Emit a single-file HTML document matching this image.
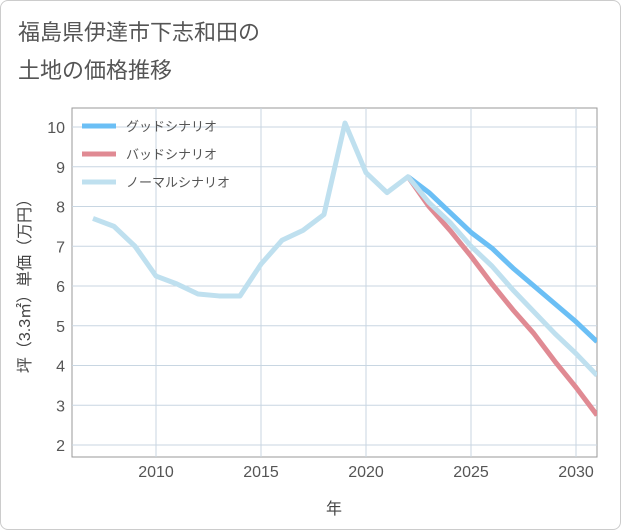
<!DOCTYPE html>
<html><head><meta charset="utf-8"><style>
body{margin:0;background:#fff;font-family:"Liberation Sans","Noto Sans CJK JP",sans-serif;}
#wrap{position:relative;width:619px;height:528px;border:1px solid #ccc;border-radius:8px;overflow:hidden;background:#fff}
</style></head><body>
<div id="wrap">
<svg id="chart" width="621" height="530" style="position:absolute;left:-1px;top:-1px">
<text x="18" y="40" font-size="22" fill="#555">福島県伊達市下志和田の</text>
<text x="18" y="78" font-size="22" fill="#555">土地の価格推移</text>
<g id="grid"></g><g id="series"></g><g id="axes"></g>
<text x="334" y="514" font-size="16" fill="#444" text-anchor="middle">年</text>
<text transform="translate(30,282) rotate(-90)" font-size="16" fill="#444" text-anchor="middle">坪（3.3㎡）単価（万円）</text>
<g id="legend"></g>
</svg>
</div>
<script>
const normalYears=[2007,2008,2009,2010,2011,2012,2013,2014,2015,2016,2017,2018,2019,2020,2021,2022,2023,2024,2025,2026,2027,2028,2029,2030,2031];
const normalValues=[7.7,7.5,7.0,6.25,6.05,5.8,5.75,5.75,6.55,7.15,7.4,7.8,10.1,8.85,8.35,8.75,8.1,7.6,7.0,6.5,5.9,5.35,4.8,4.3,3.75];
const forecastYears=[2022,2023,2024,2025,2026,2027,2028,2029,2030,2031];
const goodValues=[8.75,8.35,7.85,7.35,6.95,6.45,6.0,5.55,5.1,4.6];
const badValues=[8.75,8.0,7.4,6.75,6.05,5.4,4.8,4.1,3.45,2.75];
const xTicks=[2010,2015,2020,2025,2030];
const yTicks=[2,3,4,5,6,7,8,9,10];
const legendLabels=["グッドシナリオ","バッドシナリオ","ノーマルシナリオ"];
const X0=72,X1=597,Y0=108,Y1=457;
const xScale=y=>X0+(y-2006)*(X1-X0)/25;
const yScale=v=>445-(v-2)*(445-127)/8;
const NS="http://www.w3.org/2000/svg";
function mk(tag,attrs,parent){const e=document.createElementNS(NS,tag);for(const k in attrs)e.setAttribute(k,attrs[k]);parent.appendChild(e);return e;}
const grid=document.getElementById('grid'),axes=document.getElementById('axes'),series=document.getElementById('series'),legend=document.getElementById('legend');
mk('rect',{x:X0,y:Y0,width:X1-X0,height:Y1-Y0,fill:'#fff',stroke:'#999'},grid);
xTicks.forEach(t=>{const x=xScale(t);
const l=mk('line',{x1:x,x2:x,y1:Y0,y2:Y1,stroke:'#c8d6e2'},grid);

const tx=mk('text',{x:x,y:477,'font-size':16,fill:'#555','text-anchor':'middle'},axes);tx.textContent=t;
});
yTicks.forEach(t=>{const y=yScale(t);
const l=mk('line',{x1:X0,x2:X1,y1:y,y2:y,stroke:'#c8d6e2'},grid);

const tx=mk('text',{x:65,y:y+6,'font-size':16,fill:'#555','text-anchor':'end'},axes);tx.textContent=t;
});
function line(xs,vs,color,name){const p=mk('polyline',{points:xs.map((x,i)=>xScale(x)+','+yScale(vs[i])).join(' '),fill:'none',stroke:color,'stroke-width':5,'stroke-linejoin':'round'},series);
}
const clip=mk('clipPath',{id:'c'},document.getElementById('chart'));mk('rect',{x:X0,y:Y0,width:X1-X0,height:Y1-Y0},clip);
series.setAttribute('clip-path','url(#c)');
line(forecastYears,goodValues,'#6bbff5','good-scenario-line');
line(forecastYears,badValues,'#e08a93','bad-scenario-line');
line(normalYears,normalValues,'#bfe0ef','normal-scenario-line');
const colors=['#6bbff5','#e08a93','#bfe0ef'];
legendLabels.forEach((lb,i)=>{const y=126+i*28;
const g=mk('g',{},legend);
mk('line',{x1:82,x2:116,y1:y,y2:y,stroke:colors[i],'stroke-width':5},g);
const t=mk('text',{x:126,y:y+5,'font-size':13,fill:'#555'},g);t.textContent=lb;});
</script>
</body></html>
